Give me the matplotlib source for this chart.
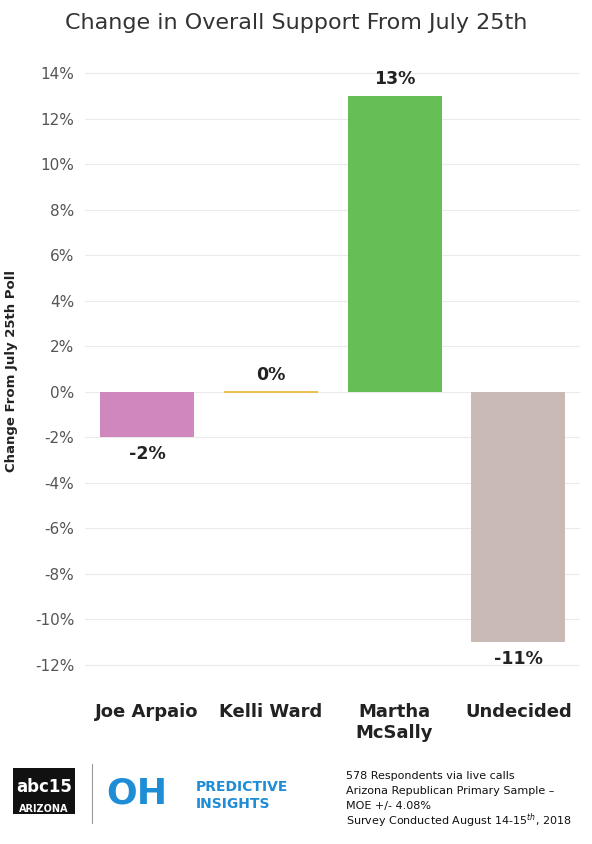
import matplotlib.pyplot as plt
from matplotlib.patches import Rectangle

candidates = ["Joe Arpaio", "Kelli Ward", "Martha\nMcSally", "Undecided"]
changes = [-2, 0, 13, -11]
colors = ["#CF87BE", "#E8B630", "#65BF56", "#C9BAB5"]
yticks = list(range(-12, 15, 2))

fig = plt.figure(figsize=(5.92, 8.44), dpi=100)
ax = fig.add_axes([0.144, 0.18, 0.836, 0.76])

x = range(len(candidates))
ax.bar(x, changes, width=0.76, color=colors, zorder=3)
# zero bar shown as a thin line
ax.hlines(0, 1 - 0.38, 1 + 0.38, color=colors[1], lw=1.2, zorder=4)

for xi, v in zip(x, changes):
    off = 0.35 if v >= 0 else -0.35
    ax.text(xi, v + off, f"{v}%", ha="center", va="bottom" if v >= 0 else "top",
            fontsize=12.5, fontweight="semibold", color="#222222")

ax.set_xlim(-0.5, 3.5)
ax.set_ylim(-13.2, 15)
ax.set_yticks(yticks)
ax.set_yticklabels([f"{t}%" for t in yticks], fontsize=11, color="#555555")
ax.set_xticks(list(x))
ax.set_xticklabels(candidates, fontsize=13, fontweight="semibold", color="#222222")
ax.tick_params(axis="both", length=0, pad=8)
ax.grid(axis="y", color="#EBEBEB", lw=0.8, zorder=0)
for s in ax.spines.values():
    s.set_visible(False)
ax.set_ylabel("Change From July 25th Poll", fontsize=9.5, fontweight="bold",
              color="#222222", labelpad=12)

fig.text(0.5, 0.985, "Change in Overall Support From July 25th", ha="center",
         va="top", fontsize=16, color="#333333")

# footer logos (approximations)
fig.patches.append(Rectangle((0.022, 0.035), 0.105, 0.055, transform=fig.transFigure,
                             facecolor="#111111", edgecolor="none"))
fig.text(0.074, 0.068, "abc15", ha="center", va="center", fontsize=12,
         fontweight="bold", color="white")
fig.text(0.074, 0.042, "ARIZONA", ha="center", va="center", fontsize=7,
         fontweight="bold", color="white")
fig.add_artist(plt.Line2D([0.155, 0.155], [0.025, 0.095], transform=fig.transFigure,
                          color="#999999", lw=0.8))
fig.text(0.18, 0.06, "OH", ha="left", va="center", fontsize=26, color="#1F8DD6",
         fontweight="bold")
fig.text(0.33, 0.067, "PREDICTIVE", ha="left", va="center", fontsize=10,
         color="#1F8DD6", fontweight="bold")
fig.text(0.33, 0.047, "INSIGHTS", ha="left", va="center", fontsize=10,
         color="#1F8DD6", fontweight="bold")

footer = ["578 Respondents via live calls",
          "Arizona Republican Primary Sample \u2013",
          "MOE +/- 4.08%",
          "Survey Conducted August 14-15$^{th}$, 2018"]
for i, line in enumerate(footer):
    fig.text(0.585, 0.08 - i * 0.0175, line, ha="left", va="center",
             fontsize=8, color="#111111")

fig.savefig("out.png", dpi=100)
